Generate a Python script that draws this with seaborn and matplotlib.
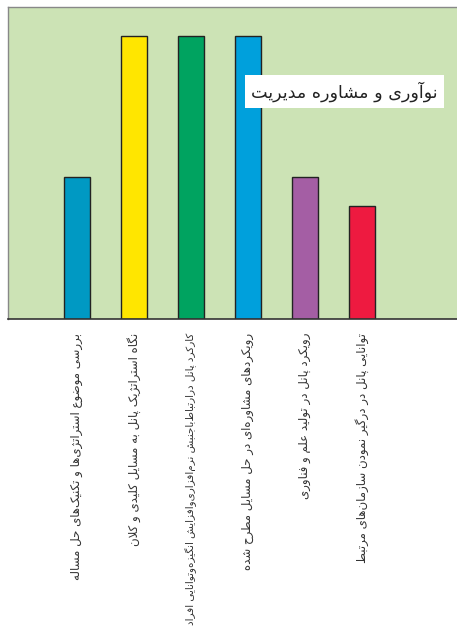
import matplotlib
matplotlib.use('Agg')
import matplotlib.pyplot as plt
import seaborn as sns
import pandas as pd

# chart data
labels = [
    'بررسی موضوع استراتژی‌ها و تکنیک‌های حل مساله',
    'نگاه استراتژیک پانل به مسایل کلیدی و کلان',
    'کارکرد پانل درارتباط‌باجنبش نرم‌افزاری‌وافزایش انگیزه‌وتوانایی افراد',
    'رویکردهای مشاوره‌ای در حل مسایل مطرح شده',
    'رویکرد پانل در تولید علم و فناوری',
    'توانایی پانل در درگیر نمودن سازمان‌های مرتبط',
]
values = [5, 10, 10, 10, 5, 4]
colors = ['#0099C3', '#FFE600', '#00A360', '#00A0DC', '#A45EA4', '#EE1A40']
title = 'نوآوری و مشاوره مدیریت'

# matplotlib has no arabic shaping, so pick presentation forms by hand
# (isolated, final, initial, medial); right-joining letters only have 2
FORMS = {
    'ا': ('\uFE8D', '\uFE8E'), 'آ': ('\uFE81', '\uFE82'),
    'د': ('\uFEA9', '\uFEAA'), 'ر': ('\uFEAD', '\uFEAE'),
    'ز': ('\uFEAF', '\uFEB0'), 'ژ': ('\uFB8A', '\uFB8B'),
    'و': ('\uFEED', '\uFEEE'),
    'ب': ('\uFE8F', '\uFE90', '\uFE91', '\uFE92'),
    'پ': ('\uFB56', '\uFB57', '\uFB58', '\uFB59'),
    'ت': ('\uFE95', '\uFE96', '\uFE97', '\uFE98'),
    'ج': ('\uFE9D', '\uFE9E', '\uFE9F', '\uFEA0'),
    'ح': ('\uFEA1', '\uFEA2', '\uFEA3', '\uFEA4'),
    'س': ('\uFEB1', '\uFEB2', '\uFEB3', '\uFEB4'),
    'ش': ('\uFEB5', '\uFEB6', '\uFEB7', '\uFEB8'),
    'ض': ('\uFEBD', '\uFEBE', '\uFEBF', '\uFEC0'),
    'ط': ('\uFEC1', '\uFEC2', '\uFEC3', '\uFEC4'),
    'ع': ('\uFEC9', '\uFECA', '\uFECB', '\uFECC'),
    'ف': ('\uFED1', '\uFED2', '\uFED3', '\uFED4'),
    'ک': ('\uFB8E', '\uFB8F', '\uFB90', '\uFB91'),
    'گ': ('\uFB92', '\uFB93', '\uFB94', '\uFB95'),
    'ل': ('\uFEDD', '\uFEDE', '\uFEDF', '\uFEE0'),
    'م': ('\uFEE1', '\uFEE2', '\uFEE3', '\uFEE4'),
    'ن': ('\uFEE5', '\uFEE6', '\uFEE7', '\uFEE8'),
    'ه': ('\uFEE9', '\uFEEA', '\uFEEB', '\uFEEC'),
    'ی': ('\uFBFC', '\uFBFD', '\uFBFE', '\uFBFF'),
}
LAMALEF = {'ا': ('\uFEFB', '\uFEFC'), 'آ': ('\uFEF5', '\uFEF6')}


def dual(c):
    return c in FORMS and len(FORMS[c]) == 4


def shape(s):
    res = []
    i = 0
    n = len(s)
    while i < n:
        c = s[i]
        if c not in FORMS:
            if c != '\u200c':
                res.append(c)
            i += 1
            continue
        prev = s[i - 1] if i > 0 else None
        joins_prev = prev is not None and dual(prev)
        if c == 'ل' and i + 1 < n and s[i + 1] in LAMALEF:
            res.append(LAMALEF[s[i + 1]][1 if joins_prev else 0])
            i += 2
            continue
        nxt = s[i + 1] if i + 1 < n else None
        joins_next = dual(c) and nxt is not None and nxt in FORMS
        f = FORMS[c]
        if joins_prev and joins_next:
            res.append(f[3])
        elif joins_prev:
            res.append(f[1])
        elif joins_next:
            res.append(f[2])
        else:
            res.append(f[0])
        i += 1
    return ''.join(reversed(res))


df = pd.DataFrame({'label': labels, 'value': values})

sns.set_style('white')
plt.rcParams['font.family'] = ['DejaVu Sans']

fig = plt.figure(figsize=(4.57, 6.33), dpi=100)
ax = fig.add_axes([8 / 457, 1 - 319 / 633, 1 - 8 / 457, 312 / 633])
ax.set_facecolor('#CCE3B5')

sns.barplot(data=df, x='label', y='value', hue='label', palette=colors,
            legend=False, width=0.46, edgecolor='#222222', linewidth=1,
            saturation=1, ax=ax)

ax.set_xlim(-1.21, 6.67)
ax.set_ylim(0, 11.02)
ax.set_yticks([])
ax.set_xlabel('')
ax.set_ylabel('')
ax.set_xticks(range(len(labels)))
ax.set_xticklabels([shape(l) for l in labels], rotation=90, va='top',
                   ha='center', fontsize=8.5, color='#333333')
# the long third label is squeezed in the original
ax.get_xticklabels()[2].set_fontsize(7.5)
ax.tick_params(axis='x', length=0, pad=10)

for side in ['top', 'left']:
    ax.spines[side].set_color('#888888')
    ax.spines[side].set_linewidth(1)
ax.spines['right'].set_visible(False)
ax.spines['bottom'].set_color('#333333')
ax.spines['bottom'].set_linewidth(1.2)

ax.text(0.749, 0.729, shape(title), transform=ax.transAxes, ha='center',
        va='center', fontsize=12.6, color='#222222',
        bbox=dict(facecolor='white', edgecolor='none', pad=4.5))

fig.savefig('out.png', dpi=100)
